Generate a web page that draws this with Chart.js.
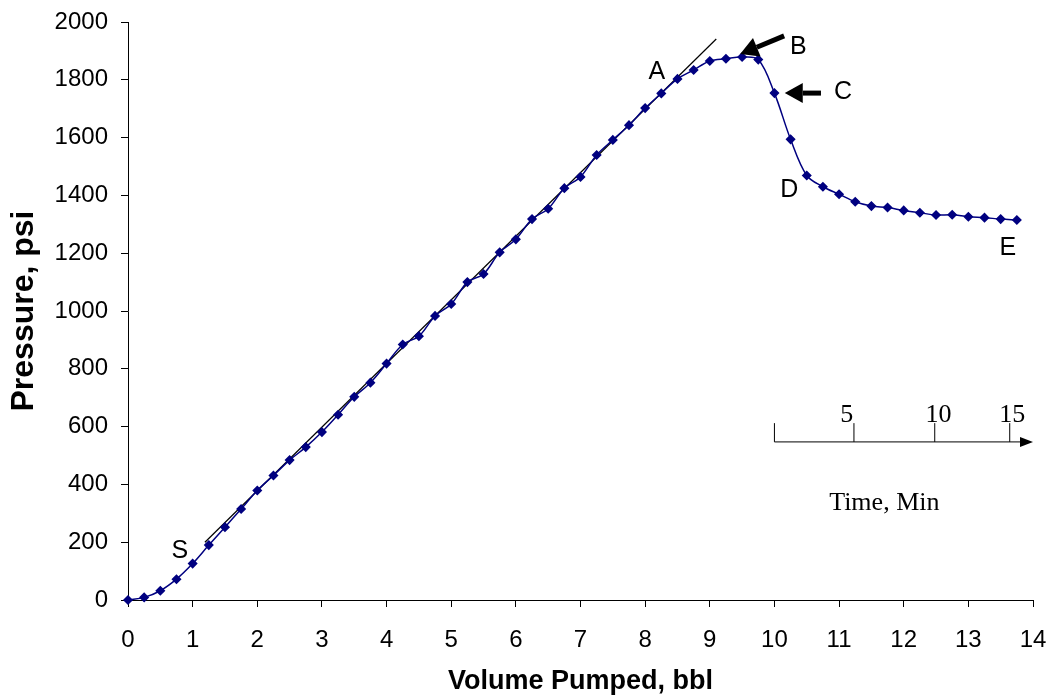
<!DOCTYPE html>
<html lang="en">
<head>
    <meta charset="UTF-8">
    <title>Pressure vs Volume Pumped</title>
    <script src="https://cdn.jsdelivr.net/npm/chart.js"></script>
    <style>
        html, body { margin: 0; padding: 0; background: #fff; }
        #wrap { width: 1050px; height: 698px; }
    </style>
</head>
<body>
<div id="wrap"><canvas id="pvChart" width="1050" height="698"></canvas></div>
<script>
    // volume pumped (bbl) and pressure (psi)
    const volume = [0, 0.25, 0.5, 0.75, 1, 1.25, 1.5, 1.75, 2, 2.25, 2.5, 2.75, 3, 3.25, 3.5, 3.75,
        4, 4.25, 4.5, 4.75, 5, 5.25, 5.5, 5.75, 6, 6.25, 6.5, 6.75, 7, 7.25, 7.5, 7.75,
        8, 8.25, 8.5, 8.75, 9, 9.25, 9.5, 9.75, 10, 10.25, 10.5, 10.75, 11, 11.25, 11.5, 11.75,
        12, 12.25, 12.5, 12.75, 13, 13.25, 13.5, 13.75];
    const pressure = [0, 9, 32, 72, 126, 190, 252, 315, 379, 431, 484, 529, 581, 641, 703, 752,
        818, 884, 913, 983, 1024, 1100, 1128, 1203, 1248, 1318, 1354, 1425, 1464, 1540, 1592, 1643,
        1702, 1753, 1803, 1834, 1865, 1873, 1879, 1870, 1754, 1594, 1469, 1430, 1404, 1378, 1363, 1358,
        1348, 1340, 1332, 1333, 1326, 1323, 1318, 1315];

    // straight tangent line drawn along the linear part
    const tangentX = [1.19, 9.1];
    const tangentY = [200, 1941];

    // point labels
    const labelText = ['S', 'A', 'B', 'C', 'D', 'E'];
    const labelX = [0.80, 8.18, 10.37, 11.06, 10.23, 13.61];
    const labelY = [170, 1827, 1913, 1758, 1419, 1218];

    // arrows (tail -> tip) for B and C
    const arrowFromX = [10.15, 10.72];
    const arrowFromY = [1952, 1754];
    const arrowToX = [9.47, 10.16];
    const arrowToY = [1889, 1754];

    // time inset axis: minutes and the volume they line up with
    const timeTicks = ['', '5', '10', '15'];
    const timeTickVol = [10.0, 11.23, 12.48, 13.64];
    const timeLabelVol = [10.0, 11.12, 12.54, 13.68];
    const timeAxisY = 547;
    const timeAxisEnd = 14.0;
    const timeTickTop = 612;
    const timeLabelY = 640;
    const timeTitle = 'Time, Min';
    const timeTitleX = 11.7;
    const timeTitleY = 336;

    const xTicks = [0, 14, 1];
    const yTicks = [0, 2000, 200];

    const ctx = document.getElementById('pvChart').getContext('2d');

    const annotations = {
        id: 'annotations',
        afterDatasetsDraw(chart) {
            const c = chart.ctx;
            const xs = chart.scales.x, ys = chart.scales.y;
            const px = v => xs.getPixelForValue(v);
            const py = v => ys.getPixelForValue(v);
            c.save();

            // letters
            c.fillStyle = '#000';
            c.font = '25px Arial, "Liberation Sans", sans-serif';
            c.textAlign = 'center';
            c.textBaseline = 'middle';
            labelText.forEach((t, i) => c.fillText(t, px(labelX[i]), py(labelY[i])));

            // arrows
            arrowFromX.forEach((_, i) => {
                const x1 = px(arrowFromX[i]), y1 = py(arrowFromY[i]);
                const x2 = px(arrowToX[i]), y2 = py(arrowToY[i]);
                const ang = Math.atan2(y2 - y1, x2 - x1);
                const headLen = 18, headW = 10;
                const bx = x2 - headLen * Math.cos(ang), by = y2 - headLen * Math.sin(ang);
                c.strokeStyle = '#000';
                c.lineWidth = 5;
                c.beginPath();
                c.moveTo(x1, y1);
                c.lineTo(bx, by);
                c.stroke();
                c.beginPath();
                c.moveTo(x2, y2);
                c.lineTo(bx + headW * Math.sin(ang), by - headW * Math.cos(ang));
                c.lineTo(bx - headW * Math.sin(ang), by + headW * Math.cos(ang));
                c.closePath();
                c.fill();
            });

            // time inset axis
            const ay = py(timeAxisY);
            const ax0 = px(timeTickVol[0]), ax1 = px(timeAxisEnd);
            c.strokeStyle = '#000';
            c.lineWidth = 1;
            c.beginPath();
            c.moveTo(ax0, ay);
            c.lineTo(ax1 - 12, ay);
            timeTickVol.forEach(v => {
                c.moveTo(px(v), ay);
                c.lineTo(px(v), py(timeTickTop));
            });
            c.stroke();
            c.beginPath();
            c.moveTo(ax1, ay);
            c.lineTo(ax1 - 13, ay - 5);
            c.lineTo(ax1 - 13, ay + 5);
            c.closePath();
            c.fill();

            c.font = '26px "Liberation Serif", "Times New Roman", serif';
            timeTicks.forEach((t, i) => c.fillText(t, px(timeLabelVol[i]), py(timeLabelY)));
            c.fillText(timeTitle, px(timeTitleX), py(timeTitleY));
            c.restore();
        }
    };

    const chart = new Chart(ctx, {
        type: 'line',
        data: {
            datasets: [
                {
                    label: 'Pressure',
                    data: volume.map((v, i) => ({ x: v, y: pressure[i] })),
                    borderColor: '#000080',
                    backgroundColor: '#000080',
                    borderWidth: 1.5,
                    pointStyle: 'rectRot',
                    pointRadius: 4,
                    pointHoverRadius: 4,
                    tension: 0.35,
                    clip: false
                },
                {
                    label: 'Tangent',
                    data: tangentX.map((v, i) => ({ x: v, y: tangentY[i] })),
                    borderColor: '#000',
                    borderWidth: 1.2,
                    pointRadius: 0,
                    tension: 0
                }
            ]
        },
        options: {
            responsive: false,
            animation: false,
            events: [],
            layout: { padding: { top: 22, right: 17, left: 0, bottom: 0 } },
            plugins: { legend: { display: false }, tooltip: { enabled: false } },
            scales: {
                x: {
                    type: 'linear',
                    min: xTicks[0], max: xTicks[1],
                    ticks: { stepSize: xTicks[2], color: '#000', padding: 19,
                             font: { size: 24, family: 'Arial, "Liberation Sans", sans-serif' } },
                    grid: { drawOnChartArea: false, drawTicks: true, tickLength: 7, color: '#000' },
                    border: { display: true, color: '#000', width: 1 },
                    title: { display: true, text: 'Volume Pumped, bbl', color: '#000',
                             font: { size: 27, weight: 'bold', family: 'Arial, "Liberation Sans", sans-serif' },
                             padding: { top: 0, bottom: 0 } },
                    afterFit(scale) {
                        scale.height = 98;
                        scale.paddingLeft = 0;
                        scale.paddingRight = 0;
                    }
                },
                y: {
                    min: yTicks[0], max: yTicks[1],
                    ticks: { stepSize: yTicks[2], color: '#000', padding: 13,
                             callback: v => String(v),
                             font: { size: 24, family: 'Arial, "Liberation Sans", sans-serif' } },
                    grid: { drawOnChartArea: false, drawTicks: true, tickLength: 7, color: '#000' },
                    border: { display: true, color: '#000', width: 1 },
                    title: { display: true, text: 'Pressure, psi', color: '#000',
                             font: { size: 32, weight: 'bold', family: 'Arial, "Liberation Sans", sans-serif' },
                             padding: { top: 5, bottom: 0 } },
                    afterFit(scale) {
                        scale.width = 128;
                        scale.paddingTop = 0;
                        scale.paddingBottom = 0;
                    }
                }
            }
        },
        plugins: [annotations]
    });
</script>
</body>
</html>
